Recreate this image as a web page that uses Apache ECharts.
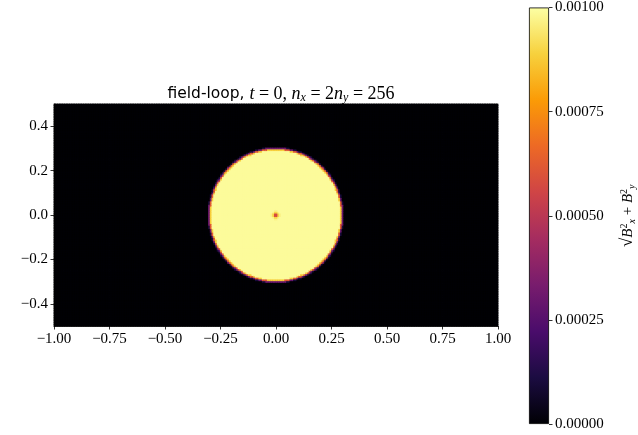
<!DOCTYPE html>
<html><head><meta charset="utf-8">
<script src="https://cdn.jsdelivr.net/npm/echarts@6/dist/echarts.min.js"></script>
<style>html,body{margin:0;padding:0;background:#fff}#c{width:638px;height:435px}</style>
</head><body><div id="c"></div>
<script>
// grid resolution of the simulation
const nx = 256, ny = 128;
// axis tick values
const xTicks = [-1, -0.75, -0.5, -0.25, 0, 0.25, 0.5, 0.75, 1];
const yTicks = [-0.4, -0.2, 0, 0.2, 0.4];
const cbTicks = [0, 0.00025, 0.0005, 0.00075, 0.001];
// radial profile of |B|: outer radius of each band (grid cells) and its value
const bandOuterRadius = [1.0, 1.8, 2.6, 37.4, 37.9, 38.4, 38.9, 39.4];
const bandValue = [0.00058, 0.00090, 0.00097, 0.00099, 0.00088, 0.00062, 0.00030, 0.00010];
const outsideValue = 0;
// inferno colormap stops
const inferno = ['#000004', '#1b0c41', '#4a0c6b', '#781c6d', '#a52c60', '#cf4446', '#ed6925', '#fb9b06', '#f7d13d', '#fcffa4'];

const cells = [];
for (let i = 0; i < nx; i++) {
  for (let j = 0; j < ny; j++) {
    const dx = i + 0.5 - nx / 2, dy = j + 0.5 - ny / 2;
    const r = Math.sqrt(dx * dx + dy * dy);
    let v = outsideValue;
    for (let k = 0; k < bandOuterRadius.length; k++) {
      if (r < bandOuterRadius[k]) { v = bandValue[k]; break; }
    }
    cells.push([i, j, v]);
  }
}
const xCats = Array.from({length: nx}, (_, i) => i);
const yCats = Array.from({length: ny}, (_, j) => j);
const minus = s => s.replace('-', '\u2212');
const serif = 'Liberation Serif';
const lblStyle = {color: '#000', fontFamily: serif, fontSize: 15};
const heat = () => ({type: 'heatmap', xAxisIndex: 0, yAxisIndex: 0, data: cells, progressive: 0, silent: true,
  emphasis: {disabled: true}});

const chart = echarts.init(document.getElementById('c'), null, {renderer: 'canvas'});
chart.setOption({
  animation: false,
  backgroundColor: '#fff',
  title: {
    left: 276, top: 79, textAlign: 'center',
    text: '{s|field-loop, }{m|t}{r| = 0, }{m|n}{sub|x}{r| = 2}{m|n}{sub|y}{r| = 256}',
    textStyle: {
      fontWeight: 'normal',
      rich: {
        s: {fontFamily: 'DejaVu Sans', fontWeight: 'normal', fontSize: 15.5, color: '#000', lineHeight: 20},
        m: {fontFamily: serif, fontWeight: 'normal', fontStyle: 'italic', fontSize: 18, color: '#000', lineHeight: 20},
        r: {fontFamily: serif, fontWeight: 'normal', fontSize: 18, color: '#000', lineHeight: 20},
        sub: {fontFamily: serif, fontWeight: 'normal', fontStyle: 'italic', fontSize: 12, color: '#000', lineHeight: 12, verticalAlign: 'bottom'}
      }
    }
  },
  grid: [
    {left: 54, top: 104, width: 444, height: 222},
    {left: 54, top: 104, width: 444, height: 222},
    {left: 529, top: 7, width: 21, height: 417}
  ],
  visualMap: {
    type: 'continuous', show: false, min: 0, max: 0.001, seriesIndex: [0, 1], dimension: 2,
    inRange: {color: inferno}
  },
  xAxis: [
    {type: 'category', gridIndex: 0, data: xCats, show: false, boundaryGap: true},
    {type: 'value', gridIndex: 1, min: -1, max: 1, interval: 0.25, z: 5,
      axisLine: {show: true, onZero: false, lineStyle: {color: '#000', width: 0.8}},
      axisTick: {show: true, length: 3.5, lineStyle: {color: '#000', width: 0.8}},
      axisLabel: Object.assign({margin: 6, formatter: v => minus(v.toFixed(2))}, lblStyle),
      splitLine: {show: false}},
    {type: 'category', gridIndex: 2, data: ['c'], show: false, boundaryGap: true}
  ],
  yAxis: [
    {type: 'category', gridIndex: 0, data: yCats, show: false, boundaryGap: true},
    {type: 'value', gridIndex: 1, min: -0.5, max: 0.5, z: 5,
      axisLine: {show: true, onZero: false, lineStyle: {color: '#000', width: 0.8}},
      axisTick: {show: true, length: 3.5, customValues: yTicks, lineStyle: {color: '#000', width: 0.8}},
      axisLabel: Object.assign({margin: 6, customValues: yTicks, formatter: v => minus(v.toFixed(1))}, lblStyle),
      splitLine: {show: false}},
    {type: 'value', gridIndex: 2, position: 'right', min: 0, max: 0.001, interval: 0.00025,
      axisLine: {show: false, onZero: false},
      axisTick: {show: true, length: 3.5, lineStyle: {color: '#000', width: 0.8}},
      axisLabel: Object.assign({margin: 6, formatter: v => v.toFixed(5)}, lblStyle),
      splitLine: {show: false},
      name: '{q|\u221A}{m|B}{sup|2}{sub|x}{r| + }{m|B}{sup|2}{sub|y}',
      nameLocation: 'middle', nameRotate: 90, nameGap: 70,
      nameTextStyle: {
        rich: {
          q: {fontFamily: serif, fontSize: 17, color: '#000', lineHeight: 18},
          m: {fontFamily: serif, fontStyle: 'italic', fontSize: 15, color: '#000', lineHeight: 18},
          r: {fontFamily: serif, fontSize: 15, color: '#000', lineHeight: 18},
          sup: {fontFamily: serif, fontSize: 10, color: '#000', lineHeight: 10, verticalAlign: 'top'},
          sub: {fontFamily: serif, fontStyle: 'italic', fontSize: 10, color: '#000', lineHeight: 10, verticalAlign: 'bottom'}
        }
      }}
  ],
  series: [
    heat(),
    heat(),
    {type: 'bar', xAxisIndex: 2, yAxisIndex: 2, data: [cbTicks[cbTicks.length - 1]], barWidth: '100%', silent: true,
      itemStyle: {
        borderColor: '#000', borderWidth: 0.8,
        color: new echarts.graphic.LinearGradient(0, 1, 0, 0,
          inferno.map((c, k) => ({offset: k / (inferno.length - 1), color: c})))
      }}
  ]
});
</script>
</body></html>
